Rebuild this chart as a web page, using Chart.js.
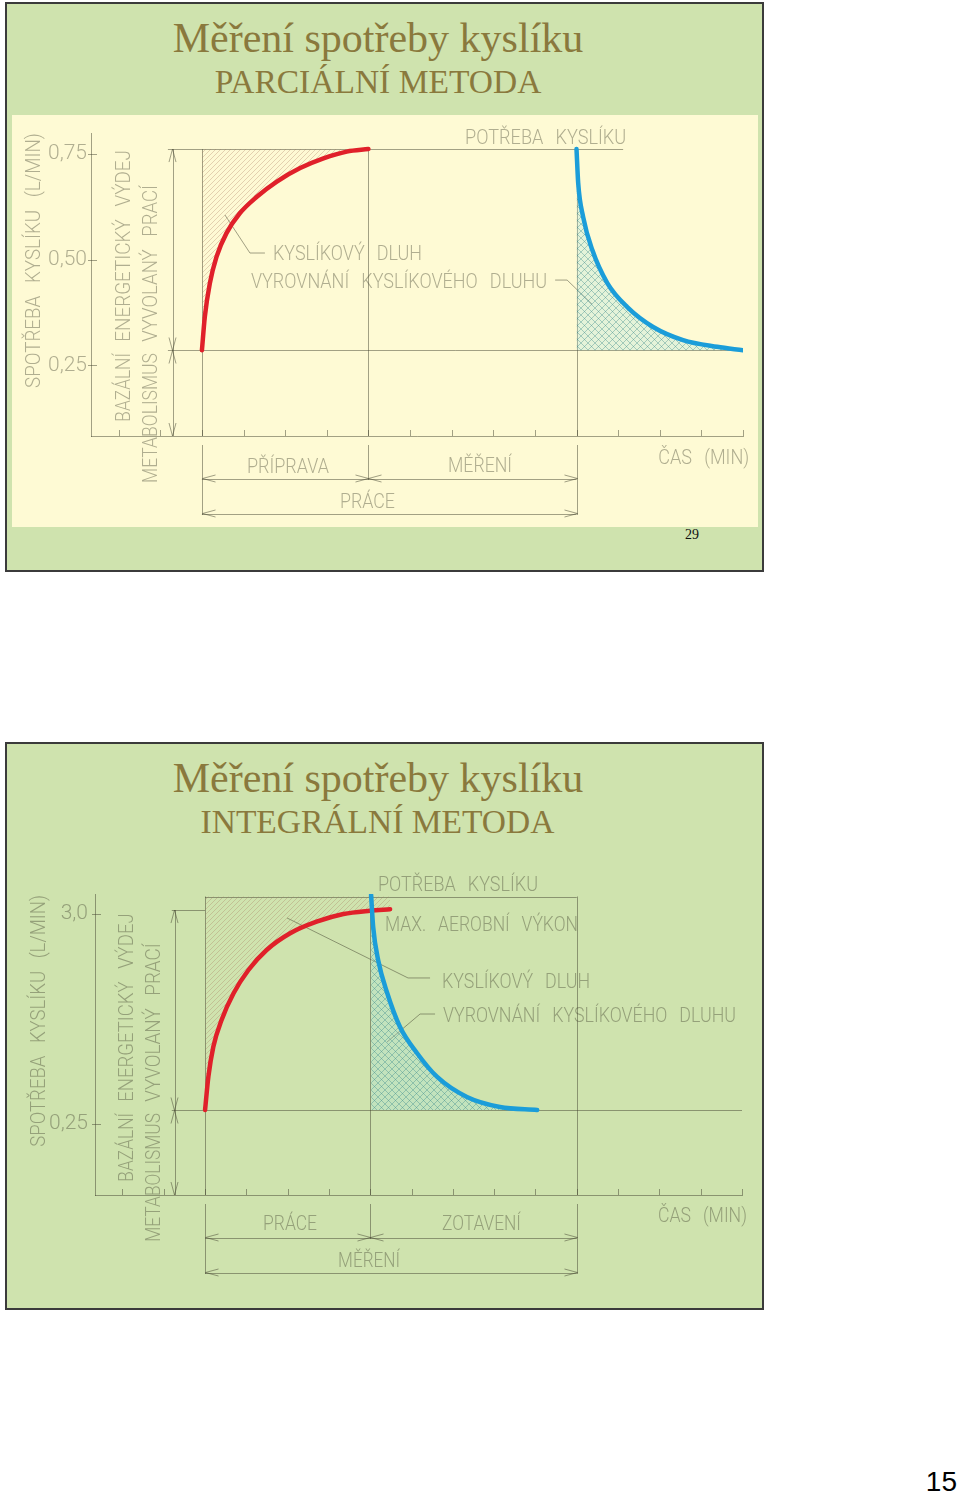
<!DOCTYPE html>
<html><head><meta charset="utf-8">
<script src="https://cdn.jsdelivr.net/npm/chart.js@4.4.1/dist/chart.umd.min.js"></script>
<style>
html,body{margin:0;padding:0;background:#fff;}
body{position:relative;width:960px;height:1494px;overflow:hidden;}
.slide{position:absolute;box-sizing:border-box;border:2px solid #3b3b3b;background:#cfe3ae;}
.panel{position:absolute;background:#fefad4;}
.t1,.t2{position:absolute;white-space:nowrap;color:#8a793d;font-family:'Liberation Serif','Times New Roman',serif;transform:translateX(-50%);line-height:1;}
.t1{font-size:42px;}
.t2{font-size:33.5px;}
canvas{position:absolute;left:0;}
</style></head>
<body>
<div class="slide" style="left:5px;top:2px;width:759px;height:570px"></div>
<div class="panel" style="left:12px;top:115px;width:746px;height:412px"></div>
<div class="t1" style="left:378px;top:16.5px">Měření spotřeby kyslíku</div>
<div class="t2" style="left:378px;top:65.3px">PARCIÁLNÍ METODA</div>
<div style="position:absolute;left:692px;top:528px;transform:translateX(-50%);font:14px/1 'Liberation Serif',serif;color:#111">29</div>
<canvas id="c1" width="770" height="575" style="top:0"></canvas>

<div class="slide" style="left:5px;top:742px;width:759px;height:568px"></div>
<div class="t1" style="left:378px;top:756.5px">Měření spotřeby kyslíku</div>
<div class="t2" style="left:377.5px;top:805.3px">INTEGRÁLNÍ METODA</div>
<canvas id="c2" width="770" height="575" style="top:740px"></canvas>

<div style="position:absolute;right:3px;top:1468.3px;font:28px/1 'Liberation Sans',Arial,sans-serif;color:#000">15</div>

<script>
// ---------- shared time axis (minutes) ----------
const T_MIN = -2.665, T_MAX = 13;

// ---------- chart 1: PARCIÁLNÍ METODA ----------
const p_yTicks  = [0.25, 0.5, 0.75];
const p_yLabels = ['0,25', '0,50', '0,75'];
const p_redT  = [0, 0.07, 0.19, 0.35, 0.59, 0.91, 1.32, 1.8, 2.36, 2.92, 3.48, 4.0];
const p_redV  = [0.286, 0.365, 0.444, 0.507, 0.563, 0.61, 0.649, 0.685, 0.717, 0.74, 0.756, 0.762];
const p_blueT = [9, 9.04, 9.16, 9.38, 9.74, 10.22, 10.84, 11.56, 12.38, 13];
const p_blueV = [0.762, 0.682, 0.601, 0.523, 0.445, 0.388, 0.341, 0.31, 0.294, 0.286];
const p_phases = [0, 4, 9];
const p_baseV = 0.286, p_topV = 0.762;

// ---------- chart 2: INTEGRÁLNÍ METODA ----------
const i_yTicks  = [0.25, 3.0];
const i_yLabels = ['0,25', '3,0'];
const i_redT  = [0, 0.08, 0.2, 0.4, 0.69, 1.05, 1.49, 2.06, 2.7, 3.35, 3.99, 4.48];
const i_redV  = [0.433, 0.869, 1.261, 1.611, 1.96, 2.265, 2.527, 2.746, 2.897, 2.998, 3.041, 3.06];
const i_blueT = [4.02, 4.07, 4.19, 4.41, 4.72, 5.13, 5.62, 6.34, 7.14, 8.04];
const i_blueV = [3.247, 2.828, 2.396, 1.964, 1.519, 1.179, 0.865, 0.603, 0.472, 0.433];
const i_phases = [0, 4, 9];
const i_baseV = 0.433, i_topV = 3.227, i_maxV = 3.05;

// ---------- styles ----------
const RED = '#e0202a', BLUE = '#1b9dd9';
const INK = 'rgba(70,70,50,0.5)';
const TXT = 'rgba(70,70,50,0.42)';
const FAM = "Roboto, 'Liberation Sans', sans-serif";
const FS = 21;

function pts(T, V) { return T.map((t, i) => ({x: t, y: V[i]})); }

function makePattern(size, color, bg, cross, lw) {
  const c = document.createElement('canvas'); c.width = c.height = size;
  const g = c.getContext('2d');
  if (bg) { g.fillStyle = bg; g.fillRect(0, 0, size, size); }
  g.strokeStyle = color; g.lineWidth = lw;
  g.beginPath();
  g.moveTo(0, size); g.lineTo(size, 0);
  g.moveTo(-1, 1); g.lineTo(1, -1);
  g.moveTo(size - 1, size + 1); g.lineTo(size + 1, size - 1);
  if (cross) {
    g.moveTo(0, 0); g.lineTo(size, size);
    g.moveTo(-1, size - 1); g.lineTo(1, size + 1);
    g.moveTo(size - 1, -1); g.lineTo(size + 1, 1);
  }
  g.stroke();
  return g.createPattern(c, 'repeat');
}
const diagPattern  = makePattern(5, 'rgba(165,115,90,0.38)', null, false, 0.8);
const crossPattern = makePattern(7, 'rgba(60,140,140,0.5)', 'rgba(160,225,230,0.28)', true, 0.8);

function fit(ctx, s, x, y, len, rot) {
  ctx.save();
  ctx.font = '300 ' + FS + 'px ' + FAM;
  try { ctx.wordSpacing = '9px'; } catch (e) {}
  const w = ctx.measureText(s).width;
  ctx.translate(x, y);
  if (rot) ctx.rotate(-Math.PI / 2);
  ctx.scale(len / w, 1);
  ctx.textAlign = 'left'; ctx.textBaseline = 'alphabetic';
  ctx.fillText(s, 0, 0);
  ctx.restore();
}

function makeSchema(a) {
  return {
    id: 'schema',
    beforeDatasetsDraw(chart) {
      const {ctx, chartArea: ca} = chart;
      const xs = chart.scales.x, ys = chart.scales.y;
      const X = t => xs.getPixelForValue(t), Y = v => ys.getPixelForValue(v);
      const crisp = p => Math.round(p) + 0.5;
      ctx.save();
      ctx.strokeStyle = INK; ctx.lineWidth = 1;
      const line = (x1, y1, x2, y2) => {
        if (Math.abs(y1 - y2) < 0.01) { y1 = y2 = crisp(y1); }
        if (Math.abs(x1 - x2) < 0.01) { x1 = x2 = crisp(x1); }
        ctx.beginPath(); ctx.moveTo(x1, y1); ctx.lineTo(x2, y2); ctx.stroke();
      };
      const arrow = (x, y, ux, uy) => {
        const L = 13, W = 3.5, px = -uy, py = ux;
        ctx.beginPath();
        ctx.moveTo(x - ux * L + px * W, y - uy * L + py * W);
        ctx.lineTo(x, y);
        ctx.lineTo(x - ux * L - px * W, y - uy * L - py * W);
        ctx.stroke();
      };
      a.hLines.forEach(([t0, t1, v]) => line(X(t0), Y(v), X(t1), Y(v)));
      a.phases.forEach(t => line(X(t), Y(a.boxTopV), X(t), ca.bottom));
      a.yTicks.forEach(v => line(ca.left - 3, Y(v), ca.left + 6, Y(v)));
      for (let t = Math.ceil(T_MIN); t <= T_MAX; t++) line(X(t), ca.bottom, X(t), ca.bottom - 6);
      // vertical dimension (basal / work-induced)
      const dX = crisp(X(a.dimT));
      line(dX, Y(a.dimTopV), dX, ca.bottom);
      arrow(dX, Y(a.dimTopV), 0, -1);
      arrow(dX, crisp(Y(a.baseV)), 0, 1);
      arrow(dX, crisp(Y(a.baseV)), 0, -1);
      arrow(dX, ca.bottom, 0, 1);
      // horizontal dimensions under the time axis
      const [p0, p1, p2] = a.phases, b = ca.bottom;
      const d1 = crisp(b + 42), d2 = crisp(b + 77);
      line(X(p0), b + 9, X(p0), b + 79);
      line(X(p2), b + 9, X(p2), b + 79);
      line(X(p1), b + 9, X(p1), b + 44);
      line(X(p0), d1, X(p2), d1);
      line(X(p0), d2, X(p2), d2);
      arrow(crisp(X(p0)), d1, -1, 0); arrow(crisp(X(p1)), d1, 1, 0);
      arrow(crisp(X(p1)), d1, -1, 0); arrow(crisp(X(p2)), d1, 1, 0);
      arrow(crisp(X(p0)), d2, -1, 0); arrow(crisp(X(p2)), d2, 1, 0);
      // leader lines
      a.leaders.forEach(pl => {
        ctx.beginPath();
        pl.forEach(([t, v], i) => i ? ctx.lineTo(X(t), Y(v)) : ctx.moveTo(X(t), Y(v)));
        ctx.stroke();
      });
      // texts
      ctx.fillStyle = TXT;
      a.texts.forEach(([s, t0, t1, v]) => fit(ctx, s, X(t0), Y(v), X(t1) - X(t0), false));
      a.below.forEach(([s, t0, t1, dy]) => fit(ctx, s, X(t0), b + dy, X(t1) - X(t0), false));
      a.vTexts.forEach(([s, t, v0, v1]) => fit(ctx, s, X(t), Y(v0), Y(v0) - Y(v1), true));
      ctx.restore();
    }
  };
}

function build(id, d) {
  return new Chart(document.getElementById(id), {
    type: 'line',
    data: { datasets: [
      { label: 'Vyrovnání kyslíkového dluhu', data: pts(d.blueT, d.blueV), borderColor: BLUE, borderWidth: 4.5,
        pointRadius: 0, tension: 0.4, cubicInterpolationMode: 'monotone', borderCapStyle: 'round',
        fill: {value: d.baseV}, backgroundColor: crossPattern },
      { label: 'Spotřeba kyslíku', data: pts(d.redT, d.redV), borderColor: RED, borderWidth: 4.5,
        pointRadius: 0, tension: 0.4, cubicInterpolationMode: 'monotone', borderCapStyle: 'round',
        fill: {value: d.topV}, backgroundColor: diagPattern }
    ]},
    options: {
      responsive: false, animation: false, devicePixelRatio: 1, events: [],
      layout: { padding: { left: 0, top: d.area.top, right: 770 - d.area.right, bottom: 575 - d.area.bottom - 10 } },
      plugins: { legend: {display: false}, tooltip: {enabled: false} },
      scales: {
        x: { type: 'linear', min: T_MIN, max: T_MAX, bounds: 'data',
             grid: {display: false, drawTicks: false}, ticks: {display: false},
             border: {display: true, color: INK, width: 1},
             afterFit: s => { s.height = 10; } },
        y: { type: 'linear', min: d.yMin, max: d.yMax, bounds: 'data',
             grid: {display: false, drawTicks: false},
             border: {display: true, color: INK, width: 1},
             ticks: { autoSkip: false, padding: d.tickPad, color: TXT, font: {family: FAM, size: 21, weight: '300'},
                      callback: (v, i) => d.yLabels[i] },
             afterBuildTicks: s => { s.ticks = d.yTicks.map(v => ({value: v})); },
             afterFit: s => { s.width = d.area.left; } }
      }
    },
    plugins: [makeSchema(d.ann)]
  });
}

build('c1', {
  area: {left: 91, top: 133, right: 743, bottom: 436}, tickPad: 4,
  yMin: 0.083, yMax: 0.80, yTicks: p_yTicks, yLabels: p_yLabels,
  redT: p_redT, redV: p_redV, blueT: p_blueT, blueV: p_blueV, baseV: p_baseV, topV: p_topV,
  ann: {
    yTicks: p_yTicks, phases: p_phases, boxTopV: p_topV, baseV: p_baseV,
    dimT: -0.73, dimTopV: p_topV,
    hLines: [[-0.817, 10.12, p_topV], [-0.817, 13, p_baseV]],
    leaders: [[[0.553, 0.606], [1.154, 0.516], [1.514, 0.516]],
              [[8.486, 0.452], [8.774, 0.452], [9.375, 0.395]]],
    texts: [['POTŘEBA KYSLÍKU', 6.322, 10.192, 0.774],
            ['KYSLÍKOVÝ DLUH', 1.707, 5.288, 0.4995],
            ['VYROVNÁNÍ KYSLÍKOVÉHO DLUHU', 1.178, 8.293, 0.4332]],
    below: [['PŘÍPRAVA', 1.082, 3.053, 37], ['MĚŘENÍ', 5.913, 7.452, 36],
            ['PRÁCE', 3.317, 4.639, 72], ['ČAS (MIN)', 10.962, 13.149, 28]],
    vTexts: [['SPOTŘEBA KYSLÍKU (L/MIN)', -3.894, 0.1966, 0.80],
             ['BAZÁLNÍ', -1.731, 0.1168, 0.2794],
             ['ENERGETICKÝ VÝDEJ', -1.731, 0.3062, 0.7598],
             ['METABOLISMUS', -1.082, -0.0282, 0.2794],
             ['VYVOLANÝ PRACÍ', -1.082, 0.3062, 0.677]]
  }
});

build('c2', {
  area: {left: 95, top: 154, right: 742, bottom: 455}, tickPad: 7,
  yMin: -0.68, yMax: 3.26, yTicks: i_yTicks, yLabels: i_yLabels,
  redT: i_redT, redV: i_redV, blueT: i_blueT, blueV: i_blueV, baseV: i_baseV, topV: i_topV,
  ann: {
    yTicks: i_yTicks, phases: i_phases, boxTopV: i_topV, baseV: i_baseV,
    dimT: -0.743, dimTopV: i_maxV,
    hLines: [[0, 9, i_topV], [-0.806, 0, i_maxV], [-0.806, 13, i_baseV]],
    leaders: [[[1.985, 2.946], [4.914, 2.161], [5.447, 2.161]],
              [[4.406, 1.323], [5.205, 1.689], [5.568, 1.689]]],
    texts: [['POTŘEBA KYSLÍKU', 4.188, 8.061, 3.299],
            ['MAX. AEROBNÍ VÝKON', 4.357, 9.029, 2.776],
            ['KYSLÍKOVÝ DLUH', 5.737, 9.32, 2.03],
            ['VYROVNÁNÍ KYSLÍKOVÉHO DLUHU', 5.761, 12.854, 1.585]],
    below: [['PRÁCE', 1.404, 2.711, 35], ['ZOTAVENÍ', 5.737, 7.649, 35],
            ['MĚŘENÍ', 3.22, 4.72, 72], ['ČAS (MIN)', 10.966, 13.12, 27]],
    vTexts: [['SPOTŘEBA KYSLÍKU (L/MIN)', -3.873, -0.048, 3.247],
             ['BAZÁLNÍ', -1.743, -0.506, 0.394],
             ['ENERGETICKÝ VÝDEJ', -1.743, 0.541, 3.007],
             ['METABOLISMUS', -1.089, -1.291, 0.394],
             ['VYVOLANÝ PRACÍ', -1.089, 0.541, 2.615]]
  }
});
</script>
</body></html>
